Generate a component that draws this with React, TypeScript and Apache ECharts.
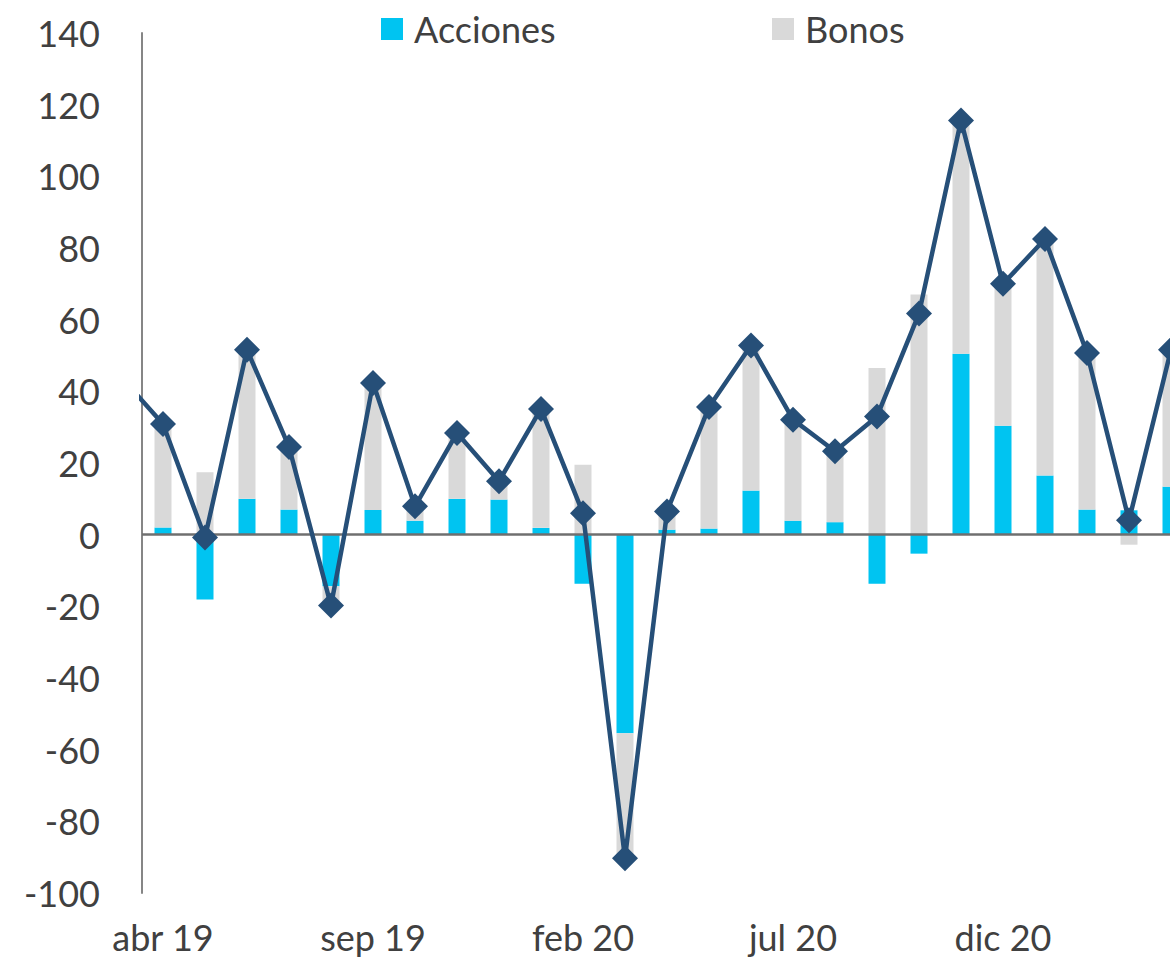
import React, { useEffect, useRef } from "react";
import * as echarts from "echarts";

// Monthly categories (mar 19 is only reached by the line, outside the plot)
const months = [
  "mar 19", "abr 19", "may 19", "jun 19", "jul 19", "ago 19", "sep 19", "oct 19",
  "nov 19", "dic 19", "ene 20", "feb 20", "mar 20", "abr 20", "may 20", "jun 20",
  "jul 20", "ago 20", "sep 20", "oct 20", "nov 20", "dic 20", "ene 21", "feb 21",
  "mar 21", "abr 21",
];

const acciones = [
  null, 2.0, -18.1, 10.0, 7.0, -14.4, 6.9, 3.9, 10.0, 9.8, 1.9, -13.7, -55.4,
  1.4, 1.7, 12.3, 3.9, 3.5, -13.7, -5.3, 50.5, 30.4, 16.5, 7.0, 6.8, 13.4,
];

const bonos = [
  null, 28.9, 17.4, 41.6, 17.5, -5.4, 35.4, 4.0, 18.4, 5.1, 33.2, 19.5, -34.9,
  5.1, 33.9, 40.5, 28.2, 19.8, 46.5, 67.0, 65.1, 39.6, 66.0, 43.7, -2.8, 38.2,
];

const total = [
  44, 30.9, -0.8, 51.6, 24.5, -19.8, 42.3, 7.9, 28.4, 14.9, 35.1, 6.0, -90.3,
  6.5, 35.6, 52.8, 32.1, 23.3, 33.0, 61.7, 115.6, 70.0, 82.5, 50.7, 4.0, 51.6,
];

const labelMonths = ["abr 19", "sep 19", "feb 20", "jul 20", "dic 20"];

const FONT = "Lato";
const TEXT = "#404040";

export default function App() {
  const ref = useRef<HTMLDivElement>(null);

  useEffect(() => {
    if (!ref.current) return;
    const chart = echarts.init(ref.current, null, { renderer: "svg" });

    const legendBase = {
      top: 6,
      itemWidth: 22,
      itemHeight: 22,
      icon: "rect",
      textStyle: { fontSize: 36, color: TEXT, fontFamily: FONT, padding: [0, 0, 0, 6] },
    };

    const option: any = {
      animation: false,
      textStyle: { fontFamily: FONT },
      legend: [
        { ...legendBase, data: ["Acciones"], left: 376 },
        { ...legendBase, data: ["Bonos"], left: 767 },
      ],
      grid: {
        left: 142,
        top: 33,
        width: 1050,
        height: 860,
        containLabel: false,
        outerBoundsMode: "none",
      },
      xAxis: {
        type: "category",
        data: months,
        min: 1,
        max: 25,
        boundaryGap: true,
        axisLine: { show: false },
        axisTick: { show: false },
        splitLine: { show: false },
        axisLabel: {
          interval: (index: number, value: string) => labelMonths.includes(value),
          fontSize: 36,
          color: TEXT,
          fontFamily: FONT,
          margin: 26,
        },
      },
      yAxis: {
        type: "value",
        min: -100,
        max: 140,
        interval: 20,
        axisLine: { show: true, onZero: false, lineStyle: { color: "#868686", width: 2 } },
        axisTick: { show: false },
        splitLine: { show: false },
        axisLabel: { fontSize: 36, color: TEXT, fontFamily: FONT, margin: 42 },
      },
      series: [
        {
          name: "Acciones",
          type: "bar",
          stack: "flujos",
          barWidth: 17,
          itemStyle: { color: "#00C4F1" },
          data: acciones.map((v) => (v == null ? "-" : v)),
        },
        {
          name: "Bonos",
          type: "bar",
          stack: "flujos",
          barWidth: 17,
          itemStyle: { color: "#D9D9D9" },
          data: bonos.map((v) => (v == null ? "-" : v)),
          markLine: {
            silent: true,
            symbol: ["none", "none"],
            label: { show: false },
            lineStyle: { color: "#6F6F6F", width: 2.5, type: "solid" },
            data: [{ yAxis: 0 }],
          },
        },
        {
          name: "Total",
          type: "line",
          clip: true,
          symbol: "diamond",
          symbolSize: 26,
          lineStyle: { color: "#264F78", width: 4.5 },
          itemStyle: { color: "#264F78" },
          data: total,
          z: 5,
        },
      ],
    };

    chart.setOption(option);
    return () => chart.dispose();
  }, []);

  return (
    <div
      ref={ref}
      style={{ position: "absolute", left: 0, top: 0, width: 1170, height: 960 }}
    />
  );
}
